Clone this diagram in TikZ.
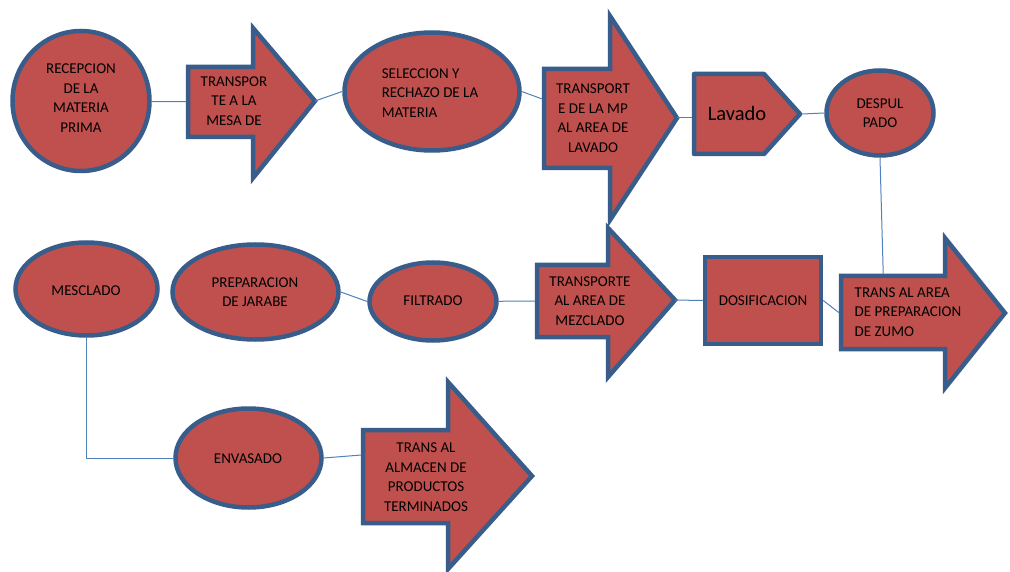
\documentclass[tikz,border=0pt]{standalone}
\usepackage{fontspec}
\setmainfont{Carlito}
\usetikzlibrary{shapes.geometric,calc}
\definecolor{fillred}{HTML}{C0504D}
\definecolor{edgeblue}{HTML}{385D8A}
\definecolor{linkblue}{HTML}{4F81BD}
\tikzset{
  proc/.style={draw=edgeblue, fill=fillred, line width=4.5pt, line join=miter},
  oval/.style={proc, ellipse, inner sep=0pt, outer sep=2.25pt},
  body/.style={rectangle, draw=none, inner sep=0pt, outer sep=2.25pt},
  lbl/.style={font=\fontsize{15}{19.5}\selectfont, align=center, text=black, inner sep=0pt},
  link/.style={draw=linkblue, line width=1pt},
}
\newcommand{\procarrow}[8]{\draw[proc] (#1,#4) -- (#2,#4) -- (#2,#6) -- (#3,#8) -- (#2,#7) -- (#2,#5) -- (#1,#5) -- cycle;}
\begin{document}
\begin{tikzpicture}[x=1pt,y=-1pt]
\useasboundingbox (0,0) rectangle (1010,572);
\fill[white] (0,0) rectangle (1010,572);

% ---- row 1 ----
\node[oval, minimum width=137pt, minimum height=140pt] (recep) at (81,101) {};
\node[lbl] (recept) at (81,98) {RECEPCION\\DE LA\\MATERIA\\PRIMA};

\procarrow{188}{253}{315}{67}{137}{28}{178}{101}
\node[body, minimum width=65pt, minimum height=70pt] (t1) at (220.5,102) {};
\coordinate (t1tip) at (315,101);
\node[lbl] (t1t) at (234,101) {TRANSPOR\\TE A LA\\MESA DE};

\node[oval, minimum width=175pt, minimum height=118pt] (selec) at (432,91.5) {};
\node[lbl, align=left] (select) at (430,93) {SELECCION Y\\RECHAZO DE LA\\MATERIA};

\procarrow{544}{610}{677}{69}{168}{16}{220}{118}
\node[body, minimum width=66pt, minimum height=99pt] (t2) at (577,118.5) {};
\coordinate (t2tip) at (677,118);
\node[lbl] (t2t) at (593,118) {TRANSPORT\\E DE LA MP\\AL AREA DE\\LAVADO};

\draw[proc, line join=round] (694,74) -- (764,74) -- (800,114) -- (764,154) -- (694,154) -- cycle;
\node[body, minimum width=106pt, minimum height=80pt] (lav) at (747,114) {};
\node[lbl, font=\fontsize{20.5}{24}\selectfont] (lavt) at (737,113) {Lavado};

\node[oval, minimum width=107pt, minimum height=85pt] (despul) at (880,113) {};
\node[lbl] (despult) at (880,113) {DESPUL\\PADO};

% ---- row 2 ----
\node[oval, minimum width=142pt, minimum height=93pt] (mescl) at (86.5,289) {};
\node[lbl] (mesclt) at (86,291) {MESCLADO};

\node[oval, minimum width=166pt, minimum height=95pt] (prep) at (255.5,292) {};
\node[lbl] (prept) at (255,292) {PREPARACION\\DE JARABE};

\node[oval, minimum width=127pt, minimum height=78pt] (filtr) at (433,301.5) {};
\node[lbl] (filtrt) at (433,301) {FILTRADO};

\procarrow{537}{608}{675}{265}{337}{228}{377}{300}
\node[body, minimum width=71pt, minimum height=72pt] (t3) at (572.5,301) {};
\coordinate (t3tip) at (675,300);
\node[lbl] (t3t) at (590,301) {TRANSPORTE\\AL AREA DE\\MEZCLADO};

\node[proc, rectangle, minimum width=116pt, minimum height=87pt, inner sep=0pt, outer sep=2.25pt] (dosif) at (763,300.5) {};
\node[lbl] (dosift) at (763,301) {DOSIFICACION};

\procarrow{841}{945}{1005}{276}{349}{238}{388}{313}
\node[body, minimum width=104pt, minimum height=73pt] (zumo) at (893,312.5) {};
\node[lbl, align=left] (zumot) at (908,312) {TRANS AL AREA\\DE PREPARACION\\DE ZUMO};

% ---- row 3 ----
\node[oval, minimum width=146pt, minimum height=99pt] (envas) at (248.5,458) {};
\node[lbl] (envast) at (248,459) {ENVASADO};

\procarrow{363}{448}{532}{430}{523}{382}{569}{476}
\node[body, minimum width=85pt, minimum height=93pt] (t5) at (405.5,476.5) {};
\node[lbl] (t5t) at (426,477) {TRANS AL\\ALMACEN DE\\PRODUCTOS\\TERMINADOS};

% ---- connectors ----
\draw[link] (recep) -- (t1);
\draw[link] (t1tip) -- (selec.west);
\draw[link] (selec.east) -- ($(t2.north west)!0.31!(t2.south west)$);
\draw[link] (t2tip) -- (t2tip -| lav.west);
\draw[link] (lav.east) -- (despul.west);
\draw[link] (despul.south) -- ($(zumo.north west)!0.41!(zumo.north east)$);
\draw[link] (prep.east) -- (filtr.west);
\draw[link] (filtr) -- (t3);
\draw[link] (t3tip) -- (dosif.west);
\draw[link] (dosif.east) -- (zumo.west);
\draw[link] (mescl.south) -- (mescl.south |- envas.west) -- (envas.west);
\draw[link] (envas.east) -- ($(t5.north west)!0.28!(t5.south west)$);
\end{tikzpicture}
\end{document}
